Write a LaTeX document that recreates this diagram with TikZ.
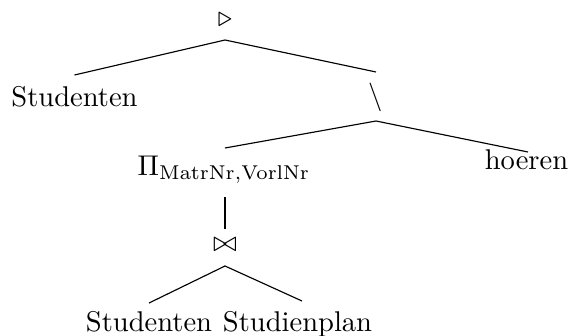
\documentclass[tikz,border=0pt]{standalone}
\usepackage{amsmath}
\begin{document}
\begin{tikzpicture}[x=0.35026pt, y=-0.35026pt,
  op/.style={inner sep=0pt, anchor=center},
  leaf/.style={inner sep=0pt, anchor=base},
  branch/.style={line width=0.4pt}]
\useasboundingbox (0,0) rectangle (571,335);

% operator and relation nodes
\node[op]   (aj)   at (225,20)    {$\triangleright$};
\node[leaf] (s1)   at (74.5,106)  {Studenten};
\node[leaf] (diff) at (376,104)   {$\setminus$};
\node[leaf] (pi)   at (224,175)   {$\Pi_{\mathrm{MatrNr,VorlNr}}$};
\node[leaf] (hr)   at (526.5,169) {hoeren};
\node[op]   (join) at (225,245)   {$\bowtie$};
\node[leaf] (s2)   at (149,331)   {Studenten};
\node[leaf] (sp)   at (297.5,331) {Studienplan};

% attachment points of the branches
\coordinate (aj-foot)   at (225,40);
\coordinate (s1-head)   at (74.5,75);
\coordinate (diff-head) at (376,72);
\coordinate (diff-foot) at (376,121);
\coordinate (pi-head)   at (225,148);
\coordinate (hr-head)   at (528,152);
\coordinate (pi-foot)   at (225,197);
\coordinate (join-head) at (225,229);
\coordinate (join-foot) at (225,266);
\coordinate (s2-head)   at (149,303);
\coordinate (sp-head)   at (302,301);

% branches
\draw[branch] (s1-head) -- (aj-foot) -- (diff-head);
\draw[branch] (pi-head) -- (diff-foot) -- (hr-head);
\draw[branch] (pi-foot) -- (join-head);
\draw[branch] (s2-head) -- (join-foot) -- (sp-head);
\end{tikzpicture}
\end{document}
